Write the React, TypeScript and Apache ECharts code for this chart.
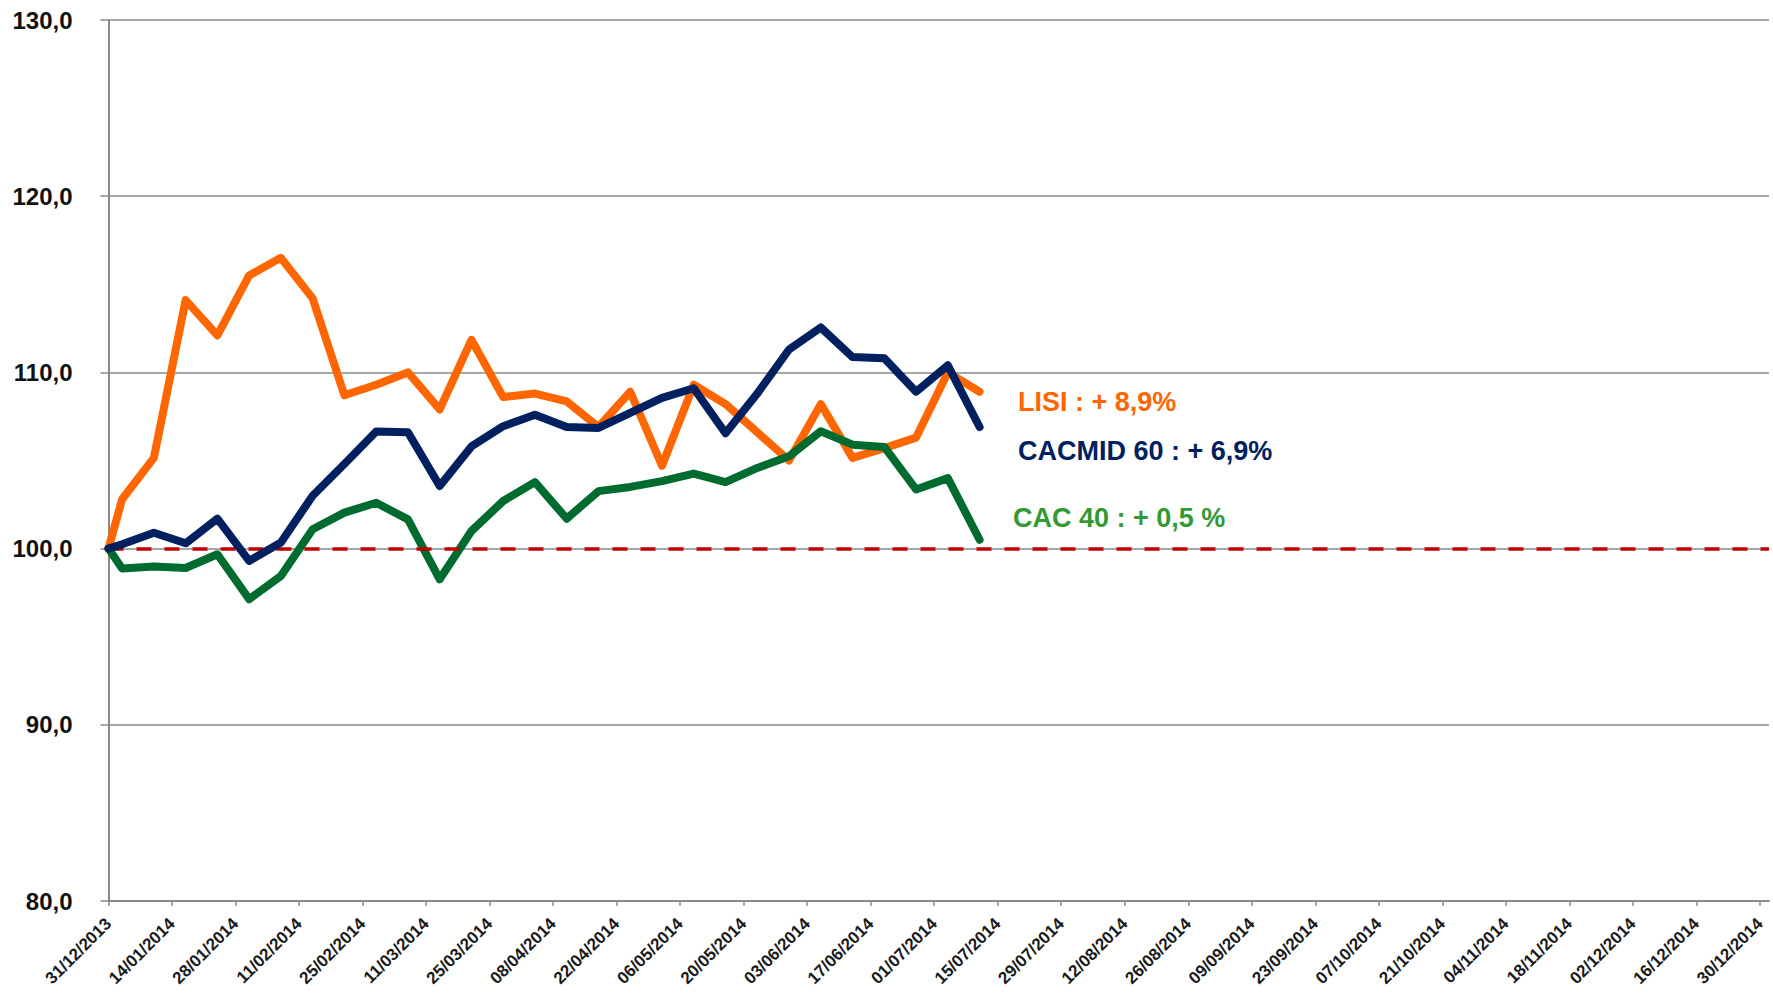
import React, { useEffect, useRef } from "react";
import * as echarts from "echarts";

// ---- data ----
const pointDates = [
  "31/12/2013", "03/01/2014", "10/01/2014", "17/01/2014", "24/01/2014", "31/01/2014",
  "07/02/2014", "14/02/2014", "21/02/2014", "28/02/2014", "07/03/2014", "14/03/2014",
  "21/03/2014", "28/03/2014", "04/04/2014", "11/04/2014", "18/04/2014", "25/04/2014",
  "02/05/2014", "09/05/2014", "16/05/2014", "23/05/2014", "30/05/2014", "06/06/2014",
  "13/06/2014", "20/06/2014", "27/06/2014", "04/07/2014", "11/07/2014",
];

const lisi = [
  100, 102.8, 105.15, 114.1, 112.1, 115.5, 116.5, 114.2, 108.7, 109.3, 110.0, 107.9,
  111.85, 108.6, 108.8, 108.35, 106.9, 108.9, 104.7, 109.3, 108.2, 106.6, 105.0, 108.2,
  105.15, 105.7, 106.3, 110.0, 108.9,
];

const cacmid60 = [
  100, 100.25, 100.9, 100.3, 101.7, 99.3, 100.35, 103.0, 104.8, 106.65, 106.6, 103.55,
  105.8, 106.95, 107.6, 106.9, 106.85, 107.7, 108.55, 109.1, 106.55, 108.8, 111.3, 112.55,
  110.87, 110.8, 108.9, 110.4, 106.9,
];

const cac40 = [
  100, 98.87, 98.98, 98.9, 99.68, 97.13, 98.45, 101.1, 102.04, 102.6, 101.66, 98.26,
  101.0, 102.7, 103.77, 101.7, 103.26, 103.5, 103.83, 104.26, 103.77, 104.58, 105.24, 106.66,
  105.9, 105.77, 103.36, 104.0, 100.5,
];

const tickLabels = [
  "31/12/2013", "14/01/2014", "28/01/2014", "11/02/2014", "25/02/2014", "11/03/2014",
  "25/03/2014", "08/04/2014", "22/04/2014", "06/05/2014", "20/05/2014", "03/06/2014",
  "17/06/2014", "01/07/2014", "15/07/2014", "29/07/2014", "12/08/2014", "26/08/2014",
  "09/09/2014", "23/09/2014", "07/10/2014", "21/10/2014", "04/11/2014", "18/11/2014",
  "02/12/2014", "16/12/2014", "30/12/2014",
];

const yMin = 80;
const yMax = 130;
const yStep = 10;
const baseline = 100;

const seriesNames = ["LISI", "CACMID 60", "CAC 40"];
const annotationTexts = ["LISI : + 8,9%", "CACMID 60 : + 6,9%", "CAC 40 : + 0,5 %"];

// ---- helpers ----
const BASE = Date.UTC(2013, 11, 31);
const dayIndex = (s: string) => {
  const [d, m, y] = s.split("/").map(Number);
  return Math.round((Date.UTC(y, m - 1, d) - BASE) / 86400000);
};
const labelByDay: Record<number, string> = {};
tickLabels.forEach((t) => (labelByDay[dayIndex(t)] = t));
const tickDays = tickLabels.map(dayIndex);
const pointDays = pointDates.map(dayIndex);
const toPairs = (vals: number[]) => vals.map((v, i) => [pointDays[i], v]);

const FONT = "'Liberation Sans', Arial, sans-serif";

export default function App() {
  const ref = useRef<HTMLDivElement>(null);
  useEffect(() => {
    if (!ref.current) return;
    const chart = echarts.init(ref.current, null, { renderer: "svg" });
    const lineCommon = (color: string) => ({
      type: "line",
      showSymbol: false,
      symbol: "none",
      lineStyle: { color, width: 8, cap: "round", join: "round" },
      emphasis: { disabled: true },
    });
    const annot = (text: string, fill: string, left: number, top: number) => ({
      type: "text",
      left,
      top,
      z: 20,
      style: {
        text,
        fill,
        font: `bold 27px ${FONT}`,
        backgroundColor: "#ffffff",
        padding: [3, 8, 3, 8],
      },
    });
    chart.setOption({
      animation: false,
      backgroundColor: "#ffffff",
      grid: { left: 108.5, right: 4, top: 20, bottom: 94, outerBoundsMode: "none" },
      xAxis: {
        type: "value",
        min: 0,
        max: 366,
        splitLine: { show: false },
        axisLine: { show: true, lineStyle: { color: "#8a8a8a", width: 2 } },
        axisTick: {
          show: true,
          customValues: tickDays,
          length: 5,
          lineStyle: { color: "#8a8a8a", width: 1.5 },
        },
        axisLabel: {
          customValues: tickDays,
          rotate: 45,
          margin: 20,
          fontSize: 17,
          fontWeight: "bold",
          fontFamily: FONT,
          color: "#1a1a1a",
          formatter: (v: number) => labelByDay[Math.round(v)] ?? "",
        },
      },
      yAxis: {
        type: "value",
        min: yMin,
        max: yMax,
        interval: yStep,
        axisLine: { show: true, lineStyle: { color: "#8a8a8a", width: 2 } },
        axisTick: { show: true, length: 8, lineStyle: { color: "#8a8a8a", width: 1.5 } },
        splitLine: { show: true, lineStyle: { color: "#8a8a8a", width: 1.5 } },
        axisLabel: {
          margin: 36,
          fontSize: 24,
          fontWeight: "bold",
          fontFamily: FONT,
          color: "#111111",
          formatter: (v: number) => v.toFixed(1).replace(".", ","),
        },
      },
      series: [
        { ...lineCommon("#FF6600"), name: seriesNames[0], data: toPairs(lisi), z: 3 },
        { ...lineCommon("#006B2F"), name: seriesNames[2], data: toPairs(cac40), z: 4 },
        { ...lineCommon("#002060"), name: seriesNames[1], data: toPairs(cacmid60), z: 5 },
        {
          type: "line",
          data: [],
          z: 10,
          markLine: {
            silent: true,
            symbol: "none",
            label: { show: false },
            lineStyle: { color: "#C00000", width: 3.5, type: [15, 13] },
            data: [{ yAxis: baseline }],
          },
        },
      ],
      graphic: [
        annot(annotationTexts[0], "#FF6600", 1010, 385),
        annot(annotationTexts[1], "#002060", 1010, 434),
        annot(annotationTexts[2], "#339933", 1005, 501),
      ],
    });
    return () => chart.dispose();
  }, []);
  return (
    <div
      ref={ref}
      style={{ position: "fixed", left: 0, top: 0, width: 1773, height: 995 }}
    />
  );
}
